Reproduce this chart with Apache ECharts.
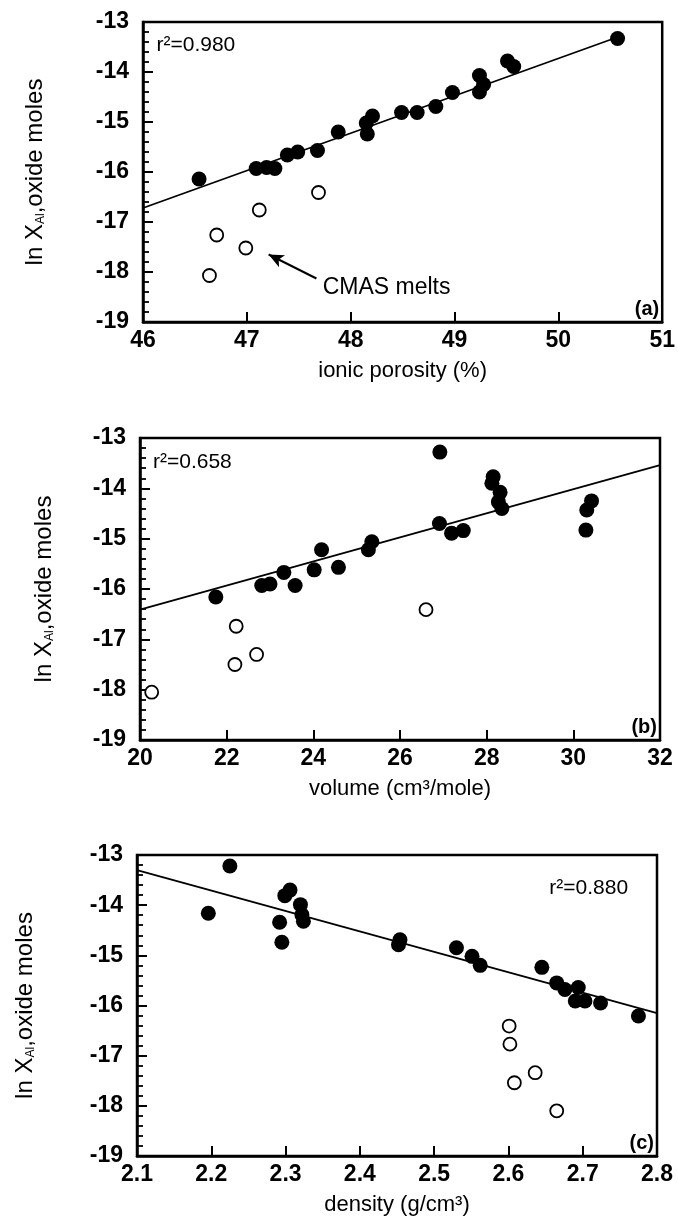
<!DOCTYPE html>
<html><head><meta charset="utf-8">
<script src="https://cdn.jsdelivr.net/npm/echarts@6/dist/echarts.min.js"></script>
<style>html,body{margin:0;padding:0;background:#fff}#c{width:678px;height:1223px}</style>
</head><body><div id="c"></div>
<script>
// ---- Panel (a): ionic porosity (%) vs ln X_Al ----
const porosityFilled = [[46.54,-16.14],[47.09,-15.93],[47.19,-15.91],[47.27,-15.93],[47.39,-15.66],[47.49,-15.60],
  [47.68,-15.57],[47.88,-15.20],[48.15,-15.02],[48.16,-15.24],[48.21,-14.88],[48.49,-14.81],[48.64,-14.81],
  [48.82,-14.69],[48.98,-14.41],[49.24,-14.07],[49.28,-14.25],[49.24,-14.40],[49.51,-13.78],[49.57,-13.89],[50.57,-13.33]];
const porosityOpen = [[47.69,-16.41],[47.12,-16.76],[46.71,-17.26],[46.99,-17.52],[46.64,-18.07]];
const porosityFit = [[46,-16.72],[50.6,-13.28]];
const porosityTicks = [46,47,48,49,50,51];

// ---- Panel (b): volume (cm3/mole) ----
const volumeFilled = [[21.75,-16.16],[22.81,-15.93],[23.0,-15.90],[23.32,-15.67],[23.58,-15.93],[24.02,-15.62],
  [24.19,-15.22],[24.58,-15.57],[25.27,-15.22],[25.35,-15.06],[26.92,-13.28],[26.91,-14.70],[27.19,-14.89],
  [27.46,-14.84],[28.15,-13.77],[28.12,-13.90],[28.31,-14.08],[28.27,-14.27],[28.35,-14.40],[30.42,-14.25],
  [30.31,-14.43],[30.29,-14.83]];
const volumeOpen = [[26.6,-16.41],[22.22,-16.74],[22.19,-17.50],[22.69,-17.30],[20.27,-18.05]];
const volumeFit = [[20,-16.41],[32,-13.54]];
const volumeTicks = [20,22,24,26,28,30,32];

// ---- Panel (c): density (g/cm3) ----
const densityFilled = [[2.196,-14.16],[2.225,-13.22],[2.292,-14.34],[2.295,-14.74],[2.299,-13.81],[2.306,-13.70],
  [2.320,-13.99],[2.322,-14.19],[2.324,-14.32],[2.454,-14.69],[2.452,-14.79],[2.530,-14.85],[2.551,-15.02],
  [2.562,-15.20],[2.645,-15.24],[2.665,-15.55],[2.676,-15.68],[2.694,-15.64],[2.690,-15.91],[2.703,-15.91],
  [2.724,-15.95],[2.775,-16.21]];
const densityOpen = [[2.601,-16.41],[2.602,-16.77],[2.608,-17.54],[2.636,-17.34],[2.665,-18.10]];
const densityFit = [[2.1,-13.30],[2.8,-16.15]];
const densityTicks = [2.1,2.2,2.3,2.4,2.5,2.6,2.7,2.8];

const yTicks = [-19,-18,-17,-16,-15,-14,-13];
const rSquared = ['r\u00b2=0.980','r\u00b2=0.658','r\u00b2=0.880'];
const panelTags = ['(a)','(b)','(c)'];
const xTitles = ['ionic porosity (%)','volume (cm\u00b3/mole)','density (g/cm\u00b3)'];

const FONT = '"Liberation Sans", Arial, Helvetica, sans-serif';
const chart = echarts.init(document.getElementById('c'), null, {renderer:'canvas'});

const grids = [
  {left:143, top:22, width:520, height:300},
  {left:140, top:438, width:520, height:302},
  {left:137, top:855, width:520, height:301}
];
const yNameGaps = [96, 84, 100];
const xRanges = [[porosityTicks, 1],[volumeTicks, 2],[densityTicks, 0.1]];

function xAxis(i){
  const t = xRanges[i][0];
  return {
    gridIndex:i, type:'value', min:t[0], max:t[t.length-1], interval:xRanges[i][1],
    axisLine:{show:true, onZero:false, lineStyle:{color:'#000', width:2.5}},
    axisTick:{show:true, inside:true, length:10, lineStyle:{color:'#000', width:2}},
    splitLine:{show:false},
    axisLabel:{color:'#000', fontSize:23, fontWeight:'bold', fontFamily:FONT, margin:7,
      formatter: v => (i===2 ? v.toFixed(1) : String(Math.round(v)))},
    name:xTitles[i], nameLocation:'middle', nameGap:38,
    nameTextStyle:{color:'#000', fontSize:22, fontFamily:FONT}
  };
}
function yAxis(i){
  return {
    gridIndex:i, type:'value', min:yTicks[0], max:yTicks[yTicks.length-1], interval:1,
    axisLine:{show:true, onZero:false, lineStyle:{color:'#000', width:2.5}},
    axisTick:{show:true, inside:true, length:10, lineStyle:{color:'#000', width:2}},
    minorTick:{show:true, splitNumber:5, length:6, lineStyle:{color:'#000', width:1.8}},
    splitLine:{show:false},
    axisLabel:{color:'#000', fontSize:23, fontWeight:'bold', fontFamily:FONT, margin:14},
    name:'{a|ln X}{s|Al}{a|,oxide moles}', nameLocation:'middle', nameGap:yNameGaps[i], nameRotate:90,
    nameTextStyle:{color:'#000', fontFamily:FONT, fontSize:24,
      rich:{a:{fontSize:24, fontFamily:FONT, color:'#000'},
            s:{fontSize:12, fontFamily:FONT, color:'#000', verticalAlign:'bottom', padding:[12,0,0,0]}}}
  };
}

const filledSets = [porosityFilled, volumeFilled, densityFilled];
const openSets = [porosityOpen, volumeOpen, densityOpen];
const fitSets = [porosityFit, volumeFit, densityFit];

const series = [];
for (let i=0;i<3;i++){
  series.push({type:'line', xAxisIndex:i, yAxisIndex:i, data:fitSets[i], showSymbol:false, symbol:'none',
    lineStyle:{color:'#000', width:1.8}, silent:true, z:2});
  series.push({type:'scatter', xAxisIndex:i, yAxisIndex:i, data:filledSets[i], symbol:'circle', symbolSize:15,
    itemStyle:{color:'#000', opacity:1}, z:3});
  const open = {type:'scatter', xAxisIndex:i, yAxisIndex:i, data:openSets[i], symbol:'circle', symbolSize:13,
    itemStyle:{color:'#fff', borderColor:'#000', borderWidth:1.8, opacity:1}, z:3};
  if (i===0){
    open.markLine = {silent:true, symbol:['none','arrow'], symbolSize:[10,15],
      lineStyle:{color:'#000', width:2, type:'solid'}, label:{show:false},
      data:[[{coord:[47.67,-18.13]},{coord:[47.21,-17.65]}]]};
  }
  series.push(open);
}

chart.setOption({
  animation:false,
  backgroundColor:'#fff',
  grid: grids.map(g => Object.assign({show:true, borderColor:'#000', borderWidth:2.5, backgroundColor:'transparent'}, g)),
  xAxis:[0,1,2].map(xAxis),
  yAxis:[0,1,2].map(yAxis),
  series
});

// text annotations placed in data coordinates
function px(i, pt){ return chart.convertToPixel({gridIndex:i}, pt); }
const ts = (t, size, extra) => Object.assign({text:t, fill:'#000', fontSize:size, fontFamily:FONT, verticalAlign:'middle'}, extra||{});
const g = [];
let p;
p = px(0,[46.13,-13.46]); g.push({type:'text', x:p[0], y:p[1], style:ts(rSquared[0],21)});
p = px(1,[20.30,-13.48]); g.push({type:'text', x:p[0], y:p[1], style:ts(rSquared[1],21)});
p = px(2,[2.655,-13.66]); g.push({type:'text', x:p[0], y:p[1], style:ts(rSquared[2],21)});
p = px(0,[47.73,-18.32]); g.push({type:'text', x:p[0], y:p[1], style:ts('CMAS melts',23)});
for (let i=0;i<3;i++){
  const t = xRanges[i][0];
  p = px(i,[t[t.length-1], -18.75]);
  g.push({type:'text', x:p[0]-3, y:p[1], style:ts(panelTags[i],20,{align:'right', fontWeight:'bold'})});
}
chart.setOption({graphic:g});
</script>
</body></html>
